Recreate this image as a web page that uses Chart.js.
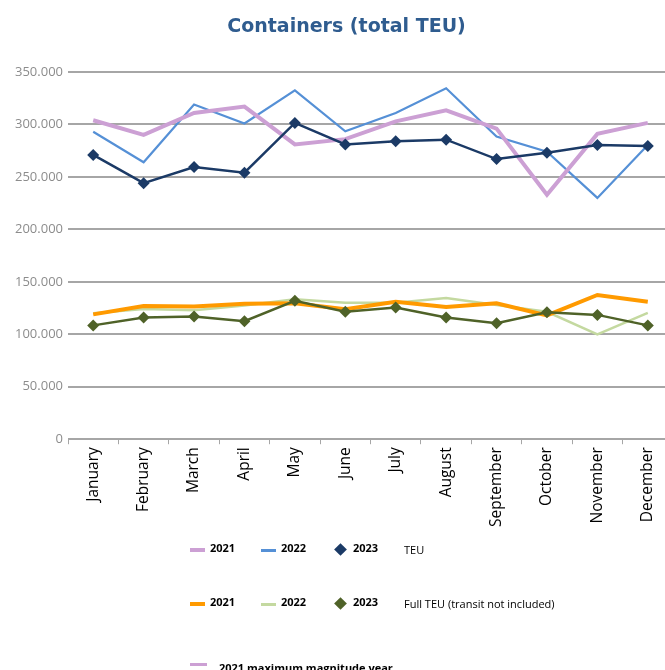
<!DOCTYPE html>
<html>
<head>
<meta charset="utf-8">
<script src="https://cdn.jsdelivr.net/npm/chart.js@4.4.1/dist/chart.umd.min.js"></script>
<style>
  html, body { margin: 0; padding: 0; background: #fff; }
  #wrap { position: relative; width: 665px; height: 670px; overflow: hidden; }
  #grafico { position: absolute; left: 0; top: 0; }
  #titulo { position: absolute; left: 0; top: 14px; width: 693px; text-align: center; font-family: "DejaVu Sans", sans-serif; font-weight: bold; font-size: 19px; line-height: 22px; color: #2F5C8F; white-space: nowrap; }
  #legend { position: absolute; left: 0; top: 0; width: 665px; height: 670px; pointer-events: none; font-family: "Open Sans", sans-serif; }
  .lg { position: absolute; white-space: nowrap; color: #000; font-size: 11px; line-height: 14px; }
  .lg.b { font-weight: bold; }
  .mk { position: absolute; }
  .dia { position: absolute; width: 9px; height: 9px; transform: rotate(45deg); }
</style>
</head>
<body>
<div id="wrap">
  <canvas id="grafico" width="680" height="670"></canvas>
  <div id="titulo">Containers (total TEU)</div>
  <div id="legend"></div>
</div>
<script>
// Dados
var meses = ['January', 'February', 'March', 'April', 'May', 'June', 'July', 'August', 'September', 'October', 'November', 'December'];
var teu2021 = [304000, 290000, 311000, 317000, 281000, 286000, 303000, 313500, 296000, 233000, 291000, 301500];
var teu2022 = [293000, 264000, 319000, 301000, 332500, 293500, 311000, 334500, 288500, 274000, 230000, 280500];
var teu2023 = [271000, 244000, 259500, 254000, 301500, 281000, 284000, 285500, 267000, 273000, 280500, 279500];
var full2021 = [119000, 127000, 126500, 129000, 129500, 124000, 131000, 126000, 129500, 118000, 137500, 131000];
var full2022 = [120000, 124000, 123000, 127500, 133500, 130000, 130000, 134500, 128000, 121500, 100000, 120500];
var full2023 = [108500, 116000, 117000, 112500, 132000, 121500, 125500, 116000, 110500, 121000, 118500, 108500];
var yTicks = [0, 50000, 100000, 150000, 200000, 250000, 300000, 350000];

var corPink = '#CCA0D4';
var corBlue = '#5590D6';
var corNavy = '#1B3A66';
var corOrange = '#FF9A00';
var corLight = '#C4D9A0';
var corOlive = '#4F6228';

// Formata os números com ponto como separador de milhar
function formata(v) {
    if (v === 0) return '0';
    return String(v).replace(/\B(?=(\d{3})+(?!\d))/g, '.');
}

function linha(label, data, cor, largura, ordem, marcador) {
    return {
        label: label,
        data: data,
        borderColor: cor,
        backgroundColor: cor,
        borderWidth: largura,
        pointStyle: marcador ? 'rectRot' : false,
        pointRadius: marcador ? 6 : 0,
        pointBorderWidth: 0,
        tension: 0,
        fill: false,
        order: ordem
    };
}

var ctx = document.getElementById('grafico').getContext('2d');
new Chart(ctx, {
    type: 'line',
    data: {
        labels: meses,
        datasets: [
            linha('2021', teu2021, corPink, 4, 2, false),
            linha('2022', teu2022, corBlue, 2.2, 3, false),
            linha('2023', teu2023, corNavy, 2.5, 1, true),
            linha('2021', full2021, corOrange, 4, 5, false),
            linha('2022', full2022, corLight, 2.5, 6, false),
            linha('2023', full2023, corOlive, 2.5, 4, true)
        ]
    },
    options: {
        responsive: false,
        animation: false,
        // o gráfico original é cortado à direita; o canvas é mais largo que a janela
        layout: { padding: { top: 72, left: 0, right: 7, bottom: 140 } },
        plugins: {
            legend: { display: false },
            tooltip: { enabled: false },
            title: { display: false }
        },
        scales: {
            x: {
                offset: true,
                border: { display: false },
                grid: { display: true, offset: true, drawOnChartArea: false, drawTicks: true, tickLength: 5, color: '#a6a6a6', lineWidth: 1 },
                ticks: { color: '#000', font: { family: 'Open Sans', size: 15.5 }, maxRotation: 90, minRotation: 90, padding: 3 }
            },
            y: {
                min: 0,
                max: 350000,
                border: { display: false },
                afterBuildTicks: function(axis) { axis.ticks = yTicks.map(function(v) { return { value: v }; }); },
                afterFit: function(axis) { axis.width = 68; },
                grid: { color: '#a6a6a6', lineWidth: 2, drawTicks: false },
                ticks: { color: '#8c8c8c', font: { family: 'Open Sans', size: 13 }, padding: 5, callback: function(v) { return formata(v); } }
            }
        }
    }
});

// Legenda em HTML, no layout do original
var legenda = document.getElementById('legend');
var linhasLegenda = [
    { y: 549, grupo: 'TEU', itens: [['2021', corPink, 4, false], ['2022', corBlue, 3, false], ['2023', corNavy, 3, true]] },
    { y: 603, grupo: 'Full TEU (transit not included)', itens: [['2021', corOrange, 4, false], ['2022', corLight, 3, false], ['2023', corOlive, 3, true]] }
];
var colunas = [190, 261, 334];

function add(html) {
    var d = document.createElement('div');
    d.innerHTML = html;
    legenda.appendChild(d.firstChild);
}

linhasLegenda.forEach(function(r) {
    r.itens.forEach(function(it, i) {
        var x = colunas[i];
        if (it[3]) {
            add('<div class="dia" style="left:' + (x + 2) + 'px;top:' + (r.y - 4) + 'px;background:' + it[1] + '"></div>');
            add('<div class="lg b" style="left:' + (x + 19) + 'px;top:' + (r.y - 8) + 'px">' + it[0] + '</div>');
        } else {
            add('<div class="mk" style="left:' + x + 'px;top:' + (r.y - it[2] / 2 + 1) + 'px;width:15px;height:' + it[2] + 'px;background:' + it[1] + '"></div>');
            add('<div class="lg b" style="left:' + (x + 20) + 'px;top:' + (r.y - 8) + 'px">' + it[0] + '</div>');
        }
    });
    add('<div class="lg" style="left:404px;top:' + (r.y - 6) + 'px">' + r.grupo + '</div>');
});
add('<div class="mk" style="left:190px;top:663px;width:17px;height:3px;background:' + corPink + '"></div>');
add('<div class="lg b" style="left:219px;top:661px">2021 maximum magnitude year</div>');
</script>
</body>
</html>
